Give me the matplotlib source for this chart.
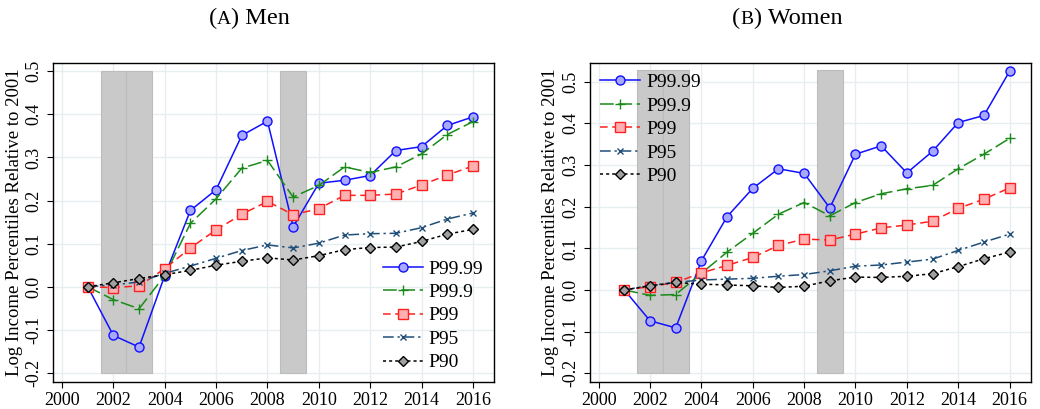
import numpy as np
import matplotlib.pyplot as plt

plt.rcParams['font.family'] = ['Liberation Serif', 'DejaVu Serif']

years = np.arange(2001, 2017)
labels = ['P99.99', 'P99.9', 'P99', 'P95', 'P90']

men_p9999 = [0, -0.113, -0.140, 0.026, 0.177, 0.225, 0.351, 0.384, 0.139, 0.240, 0.247, 0.258, 0.316, 0.325, 0.374, 0.394]
men_p999 = [0, -0.030, -0.051, 0.026, 0.147, 0.204, 0.275, 0.293, 0.208, 0.235, 0.278, 0.265, 0.278, 0.308, 0.353, 0.383]
men_p99 = [0, -0.002, 0.002, 0.042, 0.090, 0.132, 0.168, 0.198, 0.167, 0.181, 0.212, 0.212, 0.215, 0.236, 0.259, 0.280]
men_p95 = [0, 0.004, 0.011, 0.031, 0.048, 0.066, 0.084, 0.097, 0.090, 0.101, 0.120, 0.123, 0.124, 0.137, 0.157, 0.171]
men_p90 = [0, 0.009, 0.019, 0.028, 0.038, 0.050, 0.059, 0.067, 0.062, 0.072, 0.086, 0.091, 0.092, 0.105, 0.122, 0.133]

women_p9999 = [0, -0.074, -0.091, 0.070, 0.176, 0.244, 0.291, 0.280, 0.197, 0.326, 0.346, 0.281, 0.333, 0.402, 0.419, 0.525]
women_p999 = [0, -0.013, -0.011, 0.040, 0.091, 0.136, 0.182, 0.210, 0.178, 0.210, 0.231, 0.243, 0.251, 0.291, 0.326, 0.364]
women_p99 = [0, 0.008, 0.018, 0.041, 0.059, 0.078, 0.107, 0.122, 0.120, 0.134, 0.149, 0.156, 0.165, 0.196, 0.218, 0.245]
women_p95 = [0, 0.011, 0.018, 0.024, 0.026, 0.028, 0.033, 0.037, 0.046, 0.057, 0.060, 0.067, 0.074, 0.095, 0.115, 0.134]
women_p90 = [0, 0.010, 0.018, 0.014, 0.012, 0.010, 0.006, 0.009, 0.022, 0.031, 0.030, 0.033, 0.039, 0.056, 0.075, 0.091]

recession_years = [2002, 2003, 2009]

styles = [
    dict(color='#1010ff', ls='-', marker='o', mfc='#a8a8ff', mec='#1010ff', ms=6.5, lw=1.1),
    dict(color='#1a8a1a', ls=(0, (9, 3)), marker='+', mfc='#1a8a1a', mec='#1a8a1a', ms=7, lw=1.1),
    dict(color='#ff2020', ls=(0, (5, 3)), marker='s', mfc='#ffb0b0', mec='#ff2020', ms=6.5, lw=1.1),
    dict(color='#1f4e79', ls=(0, (7, 2.5, 1.5, 2.5)), marker='x', mfc='#1f4e79', mec='#1f4e79', ms=4, lw=1.1),
    dict(color='black', ls=(0, (2, 2)), marker='D', mfc='#a0a0a0', mec='black', ms=5.5, lw=1.1),
]

fig = plt.figure(figsize=(10.4, 4.09), dpi=100)
ax1 = fig.add_axes([0.051, 0.066, 0.424, 0.780])
ax2 = fig.add_axes([0.567, 0.066, 0.424, 0.780])

panels = [
    (ax1, ('(', 'A', ') Men'), 0.240, [men_p9999, men_p999, men_p99, men_p95, men_p90], 0.5, (-0.221, 0.519),
     dict(loc='lower right', bbox_to_anchor=(1.0, 0.0))),
    (ax2, ('(', 'B', ') Women'), 0.757, [women_p9999, women_p999, women_p99, women_p95, women_p90], 0.527, (-0.221, 0.545),
     dict(loc='upper left', bbox_to_anchor=(0.0, 1.0))),
]

renderer = fig.canvas.get_renderer()

for ax, title, tx, series, shade_top, ylim, legkw in panels:
    ax.bar(recession_years, shade_top + 0.2, bottom=-0.2, width=1.0,
           color='#c9c9c9', edgecolor='#bcbcbc', linewidth=0.8, zorder=1)
    for vals, lab, st in zip(series, labels, styles):
        ax.plot(years, vals, label=lab, zorder=3, **st)
    ax.set_xlim(1999.65, 2016.82)
    ax.set_ylim(*ylim)
    ax.set_xticks(np.arange(2000, 2017, 2))
    ax.set_yticks(np.arange(-0.2, 0.51, 0.1))
    ax.set_yticklabels(['%.1f' % v for v in np.arange(-0.2, 0.51, 0.1)], rotation=90, va='center')
    ax.grid(True, color='#e6eef0', lw=1.0, zorder=0)
    ax.set_axisbelow(True)
    ax.tick_params(labelsize=13, length=4, width=0.8)
    for s in ax.spines.values():
        s.set_linewidth(1.0)
    ax.set_ylabel('Log Income Percentiles Relative to 2001', fontsize=13.5, labelpad=2)
    ax.legend(frameon=False, fontsize=14, handlelength=2.05, labelspacing=0.3,
              handletextpad=0.3, borderaxespad=0.15, **legkw)

    # title with small-caps letter, pieced together
    sizes = [17.5, 14, 17.5]
    pieces = [fig.text(0, 0.941, p, fontsize=sz, ha='left', va='baseline') for p, sz in zip(title, sizes)]
    widths = [t.get_window_extent(renderer).width / fig.bbox.width for t in pieces]
    x = tx - sum(widths) / 2
    for t, w in zip(pieces, widths):
        t.set_x(x)
        x += w

fig.savefig('out.png', dpi=100)
